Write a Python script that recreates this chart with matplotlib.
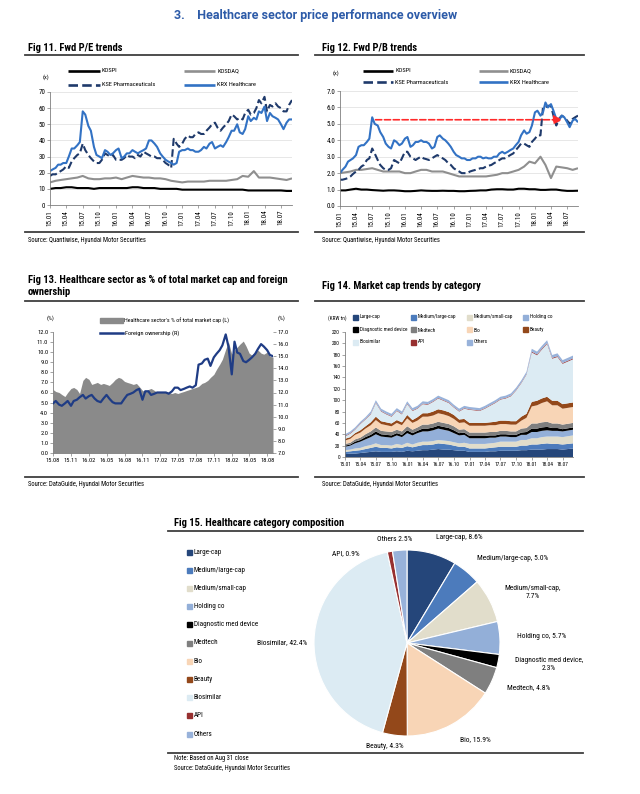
import pandas as pd
import matplotlib
matplotlib.use("Agg")
import matplotlib.pyplot as plt
import matplotlib.dates as mdates
from matplotlib.lines import Line2D
from matplotlib.patches import Rectangle

plt.rcParams["font.family"] = ["Roboto Condensed", "Open Sans Condensed", "PT Sans Narrow",
                               "Liberation Sans Narrow", "Roboto", "DejaVu Sans"]

W, H = 640, 794

# ---- Fig 11: forward P/E (semi-monthly for sector lines, monthly for indices)
pe_krx = [21, 22, 23, 25, 25, 26, 26, 30, 35, 35, 37, 39, 58, 56, 49, 46, 36, 31, 30, 29, 34, 33, 31, 32,
          34, 35, 29, 30, 32, 32, 34, 33, 32, 33, 34, 35, 40, 40, 38, 36, 32, 30, 28, 27, 26, 25, 26, 33,
          34, 34, 35, 34, 34, 33, 33, 34, 36, 35, 38, 39, 35, 36, 37, 36, 39, 42, 46, 46, 50, 45, 44, 47,
          55, 52, 54, 53, 58, 57, 61, 52, 57, 55, 54, 53, 50, 47, 51, 53, 53]
pe_kse = [18, 19, 19, 20, 21, 22, 24, 23, 27, 29, 31, 32, 38, 34, 31, 29, 27, 26, 26, 28, 32, 31, 30, 31,
          28, 28, 28, 29, 31, 30, 30, 29, 31, 30, 33, 32, 31, 30, 30, 29, 29, 28, 26, 25, 23, 41, 38, 36,
          38, 41, 43, 42, 42, 44, 45, 44, 44, 46, 48, 50, 51, 48, 46, 48, 50, 52, 56, 55, 53, 54, 53, 57,
          59, 56, 57, 60, 65, 63, 67, 58, 62, 61, 63, 61, 60, 58, 58, 62, 65]
pe_kosdaq = [14, 15, 15.5, 16, 16.5, 17, 18, 16.5, 16, 16, 16.5, 16.5,
             17, 16, 17, 18, 17.5, 17, 17, 16.5, 16.5, 16, 15, 14.5,
             14, 14.5, 14.5, 14.5, 14.5, 15, 15, 15, 15, 15.5, 16, 18,
             17.5, 21, 17, 17, 17, 16.5, 16, 15.5, 16.5]
pe_kospi = [10, 10.5, 10.5, 11, 11, 10.5, 10.5, 10.5, 10, 10.5, 10.5, 10.5,
            10.5, 10.5, 10.5, 11, 11, 10.5, 10.5, 10.5, 10, 10, 10, 10,
            9.5, 9.5, 9.5, 9.5, 9.5, 9.5, 9.5, 9.5, 9.5, 9.5, 9.5, 9.5,
            9, 9, 9, 9, 9, 9, 9, 8.7, 8.7]

# ---- Fig 12: forward P/B
pb_krx = [2.0, 2.2, 2.4, 2.7, 2.8, 2.9, 3.1, 3.6, 3.7, 3.7, 3.9, 4.1, 5.4, 5.0, 4.9, 4.5, 4.2, 3.8, 3.6, 3.5,
          4.0, 3.9, 3.7, 3.8,
          4.1, 4.2, 3.6, 3.7, 3.9, 3.9, 4.0, 3.9, 3.9, 3.8, 3.5, 3.6, 4.2, 4.3, 4.1, 4.0, 3.8, 3.6, 3.3, 3.1,
          3.0, 2.9, 2.9, 2.8,
          2.8, 2.9, 2.9, 3.0, 3.0, 2.9, 2.95, 2.9, 2.9, 3.0, 3.0, 3.2, 3.3, 3.2, 3.3, 3.4, 3.5, 3.7, 3.9, 4.3,
          4.6, 4.4, 4.5, 4.9,
          5.7, 5.8, 5.5, 5.7, 6.3, 6.0, 6.2, 5.8, 5.3, 5.2, 5.5, 5.4, 5.1, 4.8, 5.2, 5.3, 5.1]
pb_kse = [1.6, 1.6, 1.65, 1.7, 1.8, 1.95, 2.1, 2.2, 2.4, 2.5, 2.8, 2.9, 3.5, 3.2, 2.8, 2.5, 2.3, 2.2, 2.2, 2.3,
          2.8, 2.7, 2.6, 2.9,
          3.3, 3.3, 3.0, 2.9, 2.8, 2.9, 3.0, 2.9, 2.85, 2.8, 2.9, 3.0, 3.1, 3.0, 2.9, 2.8, 2.6, 2.5, 2.3, 2.2,
          2.1, 2.0, 2.0, 2.0,
          2.1, 2.15, 2.2, 2.25, 2.3, 2.3, 2.4, 2.45, 2.5, 2.6, 2.7, 2.8, 2.9, 2.9, 3.0, 3.1, 3.2, 3.4, 3.6, 3.8,
          3.8, 3.7, 3.6, 3.9,
          4.1, 4.3, 4.3, 6.0, 6.0, 6.1, 6.1, 5.5, 4.9, 5.3, 5.5, 5.4, 5.2, 5.0, 5.3, 5.4, 5.5]
pb_kosdaq = [2.0, 2.05, 2.1, 2.2, 2.2, 2.25, 2.3, 2.2, 2.1, 2.1, 2.1, 2.1,
             2.0, 2.0, 2.1, 2.2, 2.2, 2.1, 2.1, 2.1, 2.0, 1.9, 1.8, 1.8,
             1.8, 1.8, 1.8, 1.8, 1.85, 1.9, 2.0, 2.0, 2.1, 2.2, 2.4, 2.7,
             2.6, 3.0, 2.5, 1.7, 2.4, 2.35, 2.3, 2.2, 2.3]
pb_kospi = [0.95, 0.95, 1.0, 1.05, 1.0, 1.0, 0.97, 0.95, 0.93, 0.95, 0.95, 0.93,
            0.9, 0.9, 0.92, 0.95, 0.93, 0.92, 0.92, 0.93, 0.92, 0.92, 0.9, 0.9,
            0.92, 0.93, 0.95, 0.95, 1.0, 1.02, 1.02, 1.0, 1.0, 1.05, 1.05, 1.02,
            1.02, 0.98, 0.98, 1.0, 1.0, 0.95, 0.92, 0.92, 0.93]
arrow_from, arrow_to, arrow_level = "2015-07-20", "2018-06-05", 5.25

# ---- Fig 13: sector share of market cap (L) and foreign ownership (R)
hc_share = [6.3, 6.1, 6.0, 5.8, 5.6, 6.0, 6.4, 6.5, 6.3, 5.9,
            7.2, 7.5, 7.3, 6.8, 6.9, 7.0, 6.8, 6.9, 6.8, 6.7, 7.0, 7.3, 7.5, 7.4, 7.1, 7.0, 6.9, 6.8,
            6.9, 6.6, 6.2, 6.1, 6.3, 6.4,
            6.2, 6.0, 6.0, 6.1, 6.1, 6.0, 5.9, 6.0, 5.9, 6.0, 6.1, 6.2, 6.3, 6.4, 6.5, 6.6, 6.9, 7.0,
            7.2, 7.5, 7.8, 8.3, 8.8, 9.3,
            10.3, 11.0, 9.8, 10.2, 10.5, 10.8, 11.1, 10.6, 9.9, 9.7, 10.0, 10.2, 9.9, 9.8, 10.0, 9.6, 9.5]
foreign_own = [11.1, 11.3, 11.0, 10.9, 11.1, 11.3, 10.9, 11.3, 11.4, 11.6,
               11.8, 11.5, 11.7, 11.8, 11.5, 11.3, 11.2, 11.5, 11.8, 11.5, 11.2, 11.1, 11.1, 11.1,
               11.5, 11.8, 11.9, 12.0, 12.2, 12.3, 11.4, 12.1, 12.1, 11.8,
               11.9, 12.0, 12.0, 12.0, 12.0, 11.9, 12.1, 12.4, 12.4, 12.2, 12.3, 12.4, 12.5, 12.4,
               12.6, 14.3, 14.4, 14.7, 14.8, 14.2, 14.9, 15.2, 15.5, 15.9,
               16.8, 15.8, 13.5, 16.2, 15.3, 15.2, 14.6, 14.5, 14.7, 14.9, 15.2, 15.6, 16.0, 15.8,
               15.5, 15.1, 15.0]

# ---- Fig 14: market cap by category (KRW tn, monthly)
categories = ["Large-cap", "Medium/large-cap", "Medium/small-cap", "Holding co",
              "Diagnostic med device", "Medtech", "Bio", "Beauty", "Biosimilar", "API", "Others"]
cat_colors = ["#25467A", "#4C7BBC", "#E1DDCB", "#93AFD8", "#000000", "#7F7F7F",
              "#F8D5B6", "#93481A", "#DCEBF3", "#973030", "#98B2DA"]
mc_large = [5, 6, 6, 7, 8, 9, 10, 9, 9, 9, 10, 9, 11, 10, 11, 12, 12, 13, 14, 13, 13, 12, 11, 11,
            9, 9, 9, 9, 10, 10, 11, 11, 11, 11, 12, 12, 13, 13, 13, 14, 14, 14, 13, 15]
mc_medlarge = [4, 4, 5, 5, 6, 7, 8, 7, 7, 6, 7, 7, 8, 7, 8, 9, 9, 9, 10, 10, 9, 8, 7, 7,
               6, 6, 6, 6, 6, 7, 7, 7, 7, 7, 8, 8, 9, 9, 10, 10, 9, 9, 9, 9]
mc_medsmall = [3, 3, 4, 4, 5, 5, 6, 5, 5, 5, 6, 5, 6, 5, 6, 6, 6, 6, 6, 6, 6, 6, 6, 7,
               8, 8, 8, 8, 8, 8, 9, 9, 9, 9, 10, 10, 11, 11, 12, 12, 13, 13, 13, 14]
mc_holding = [6, 7, 9, 11, 12, 14, 16, 15, 14, 14, 15, 14, 17, 16, 17, 18, 18, 19, 20, 19, 18, 16, 14, 14,
              10, 10, 10, 10, 10, 9, 9, 9, 8, 8, 9, 9, 11, 11, 11, 11, 10, 10, 10, 10]
mc_diag = [2, 2, 3, 3, 4, 4, 5, 4, 4, 4, 4, 4, 5, 4, 4, 5, 5, 5, 5, 5, 5, 5, 4, 4,
           4, 4, 4, 4, 4, 4, 4, 4, 4, 4, 4, 5, 6, 6, 6, 6, 5, 5, 4, 4]
mc_medtech = [3, 3, 4, 4, 5, 6, 7, 6, 6, 6, 6, 6, 7, 6, 6, 7, 7, 7, 7, 7, 7, 7, 6, 6,
              6, 6, 6, 6, 6, 6, 6, 6, 6, 6, 7, 7, 9, 9, 9, 9, 8, 8, 8, 8]
mc_bio = [6, 7, 8, 9, 10, 11, 13, 12, 11, 10, 12, 11, 14, 12, 12, 14, 14, 14, 15, 15, 14, 13, 12, 12,
          12, 12, 12, 12, 12, 12, 12, 12, 12, 12, 14, 18, 30, 32, 34, 36, 32, 32, 28, 28]
mc_beauty = [3, 3, 3, 4, 4, 5, 6, 5, 5, 5, 5, 5, 6, 5, 6, 6, 6, 7, 7, 7, 7, 7, 6, 6,
             5, 5, 5, 5, 5, 6, 6, 6, 6, 6, 7, 7, 8, 8, 8, 8, 8, 8, 8, 8]
mc_biosimilar = [4, 6, 6, 11, 12, 14, 24, 17, 14, 12, 16, 14, 19, 16, 15, 16, 15, 17, 19, 17, 16, 13, 14, 18,
                 23, 22, 21, 25, 29, 33, 37, 39, 44, 54, 59, 69, 87, 80, 86, 93, 74, 77, 71, 76]
mc_api = [1] * 36 + [1.5] * 8
mc_others = [3, 3, 3, 3, 3, 4, 4, 4, 4, 4, 4, 4] + [4] * 24 + [5] * 8

# ---- Fig 15: composition at Aug 31 (%)
shares = [8.6, 5.0, 7.7, 5.7, 2.3, 4.8, 15.9, 4.3, 42.4, 0.9, 2.5]
pie_fmt = ["Large-cap, {}%", "Medium/large-cap, {}%", "Medium/small-cap,\n{}%", "Holding co, {}%",
           "Diagnostic med device,\n{}%", "Medtech, {}%", "Bio, {}%", "Beauty, {}%",
           "Biosimilar, {}%", "API, {}%", "Others {}%"]

semi = pd.date_range("2015-01-01", periods=88, freq="SMS").append(pd.DatetimeIndex(["2018-08-31"]))
monthly = pd.date_range("2015-01-01", periods=44, freq="MS").append(pd.DatetimeIndex(["2018-08-31"]))
semi13 = pd.date_range("2015-08-01", periods=74, freq="SMS").append(pd.DatetimeIndex(["2018-08-31"]))
monthly14 = pd.date_range("2015-01-01", periods=43, freq="MS").append(pd.DatetimeIndex(["2018-08-31"]))

TITLE_FS = 7.6
SRC_FS = 4.8
LEG_FS = 4.6


def fx(x):
    return x / W


def fy(y):
    return 1 - y / H


def box(x0, y0, x1, y1):
    return [fx(x0), fy(y1), (x1 - x0) / W, (y1 - y0) / H]


def rule(x0, x1, y, lw=1.3):
    fig.add_artist(Line2D([fx(x0), fx(x1)], [fy(y), fy(y)], color="#3F3F3F", lw=lw))


def txt(x, y, s, **kw):
    kw.setdefault("fontsize", LEG_FS)
    kw.setdefault("va", "center")
    fig.text(fx(x), fy(y), s, **kw)


def leg_line(x0, x1, y, label, **kw):
    fig.add_artist(Line2D([fx(x0), fx(x1)], [fy(y), fy(y)], **kw))
    txt(x1 + 2, y, label)


def leg_patch(x, y, w, h, color, label, fs=LEG_FS):
    fig.add_artist(Rectangle((fx(x), fy(y + h / 2)), w / W, h / H, color=color,
                             transform=fig.transFigure))
    txt(x + w + 1.5, y, label, fontsize=fs)


def style_axes(ax, fs=5):
    for s in ["top", "right"]:
        ax.spines[s].set_visible(False)
    for s in ["left", "bottom"]:
        ax.spines[s].set_color("#7F7F7F")
        ax.spines[s].set_linewidth(0.6)
    ax.tick_params(labelsize=fs, length=2, width=0.5, pad=1.5, colors="#7F7F7F", labelcolor="black")


fig = plt.figure(figsize=(6.4, 7.94), dpi=100)

txt(316, 15, "3.    Healthcare sector price performance overview", fontsize=9,
    fontweight="bold", color="#2D5BA8", ha="center", family=["Roboto", "DejaVu Sans"])

solid = dict(lw=1.5, solid_capstyle="butt")
leg_solid = dict(lw=1.9, solid_capstyle="butt")
dash = (0, (3.6, 1.6))

# ---------------- Fig 11
txt(28, 48, "Fig 11. Fwd P/E trends", fontsize=TITLE_FS, fontweight="bold")
rule(25, 298, 55)
rule(25, 298, 232)
txt(28, 240, "Source: Quantiwise, Hyundai Motor Securities", fontsize=SRC_FS)
ax11 = fig.add_axes(box(50, 92, 292, 205))
ax11.plot(monthly, pe_kospi, color="black", **solid)
ax11.plot(monthly, pe_kosdaq, color="#8F8F8F", **solid)
ax11.plot(semi, pe_kse, color="#1F3A6B", ls=dash, lw=1.5)
ax11.plot(semi, pe_krx, color="#3272C4", **solid)
ax11.set_ylim(0, 70)
ax11.set_yticks(range(0, 71, 10))
ax11.set_xlim(pd.Timestamp("2015-01-01"), pd.Timestamp("2018-08-31"))
ax11.set_xticks(pd.date_range("2015-01-01", "2018-07-01", freq="3MS"))
ax11.xaxis.set_major_formatter(mdates.DateFormatter("%y.%m"))
ax11.tick_params(axis="x", rotation=90)
ax11.grid(axis="y", color="#DDDDDD", lw=0.5)
ax11.set_axisbelow(True)
style_axes(ax11)
txt(43, 77, "(x)")
leg_line(68, 100, 71, "KOSPI", color="black", **leg_solid)
leg_line(184, 215, 71, "KOSDAQ", color="#8F8F8F", **leg_solid)
leg_line(68, 100, 85, "KSE Pharmaceuticals", color="#1F3A6B", ls=dash, lw=1.9)
leg_line(184, 215, 85, "KRX Healthcare", color="#3272C4", **leg_solid)

# ---------------- Fig 12
txt(322, 48, "Fig 12. Fwd P/B trends", fontsize=TITLE_FS, fontweight="bold")
rule(315, 584, 55)
rule(315, 584, 232)
txt(322, 240, "Source: Quantiwise, Hyundai Motor Securities", fontsize=SRC_FS)
ax12 = fig.add_axes(box(340, 91, 578, 206))
ax12.plot(monthly, pb_kospi, color="black", **solid)
ax12.plot(monthly, pb_kosdaq, color="#8F8F8F", **solid)
ax12.plot(semi, pb_kse, color="#1F3A6B", ls=dash, lw=1.5)
ax12.plot(semi, pb_krx, color="#3272C4", **solid)
ax12.annotate("", xy=(pd.Timestamp(arrow_to), arrow_level), xytext=(pd.Timestamp(arrow_from), arrow_level),
              arrowprops=dict(arrowstyle="-|>,head_length=0.5,head_width=0.25", color="#FF2A2A",
                              lw=1.2, ls="--", shrinkA=0, shrinkB=0))
ax12.set_ylim(0, 7)
ax12.set_yticks([i * 1.0 for i in range(8)])
ax12.yaxis.set_major_formatter(plt.FormatStrFormatter("%.1f"))
ax12.set_xlim(pd.Timestamp("2015-01-01"), pd.Timestamp("2018-08-31"))
ax12.set_xticks(pd.date_range("2015-01-01", "2018-07-01", freq="3MS"))
ax12.xaxis.set_major_formatter(mdates.DateFormatter("%y.%m"))
ax12.tick_params(axis="x", rotation=90)
ax12.grid(axis="y", color="#DDDDDD", lw=0.5)
ax12.set_axisbelow(True)
style_axes(ax12)
txt(333, 73, "(x)")
leg_line(363, 393, 71, "KOSPI", color="black", **leg_solid)
leg_line(479, 508, 71, "KOSDAQ", color="#8F8F8F", **leg_solid)
leg_line(363, 393, 82, "KSE Pharmaceuticals", color="#1F3A6B", ls=dash, lw=1.9)
leg_line(479, 508, 82, "KRX Healthcare", color="#3272C4", **leg_solid)

# ---------------- Fig 13
txt(28, 286, "Fig 13. Healthcare sector as % of total market cap and foreign\nownership",
    fontsize=TITLE_FS, fontweight="bold", linespacing=1.15)
rule(25, 298, 301)
rule(25, 298, 477)
txt(28, 484, "Source: DataGuide, Hyundai Motor Securities", fontsize=SRC_FS)
ax13 = fig.add_axes(box(53, 332, 273, 453))
ax13.fill_between(semi13, 0, hc_share, color="#8A8A8A", lw=0)
ax13.set_ylim(0, 12)
ax13.set_yticks(range(0, 13))
ax13.yaxis.set_major_formatter(plt.FormatStrFormatter("%.1f"))
ax13.set_xlim(pd.Timestamp("2015-08-01"), pd.Timestamp("2018-08-31"))
ax13.set_xticks(pd.date_range("2015-08-01", "2018-08-01", freq="3MS"))
ax13.xaxis.set_major_formatter(mdates.DateFormatter("%y.%m"))
style_axes(ax13, fs=4.6)
ax13b = ax13.twinx()
ax13b.plot(semi13, foreign_own, color="#1F3C85", lw=1.6)
ax13b.set_ylim(7, 17)
ax13b.set_yticks(range(7, 18))
ax13b.yaxis.set_major_formatter(plt.FormatStrFormatter("%.1f"))
for s in ["top", "left", "right", "bottom"]:
    ax13b.spines[s].set_visible(False)
ax13b.tick_params(labelsize=4.6, length=2, width=0.5, pad=1.5, colors="#7F7F7F", labelcolor="black")
txt(47, 318, "(%)", fontsize=4.4)
txt(278, 318, "(%)", fontsize=4.4)
leg_patch(100, 321, 23, 5, "#8A8A8A", "Healthcare sector's % of total market cap (L)", fs=4.3)
leg_line(100, 123, 333, "Foreign ownership (R)", color="#1F3C85", lw=1.8)

# ---------------- Fig 14
txt(322, 286, "Fig 14. Market cap trends by category", fontsize=TITLE_FS, fontweight="bold")
rule(315, 584, 301)
rule(315, 584, 477)
txt(322, 484, "Source: DataGuide, Hyundai Motor Securities", fontsize=SRC_FS)
ax14 = fig.add_axes(box(345, 332, 573, 457))
layers = [mc_large, mc_medlarge, mc_medsmall, mc_holding, mc_diag, mc_medtech,
          mc_bio, mc_beauty, mc_biosimilar, mc_api, mc_others]
ax14.stackplot(monthly14, layers, colors=cat_colors, lw=0)
ax14.set_ylim(0, 220)
ax14.set_yticks(range(0, 221, 20))
ax14.set_xlim(pd.Timestamp("2015-01-01"), pd.Timestamp("2018-08-31"))
ax14.set_xticks(pd.date_range("2015-01-01", "2018-07-01", freq="3MS"))
ax14.xaxis.set_major_formatter(mdates.DateFormatter("%y.%m"))
style_axes(ax14, fs=3.9)
txt(337, 318, "(KRW tn)", fontsize=3.8, ha="center")
leg_cols = [353, 411, 467, 523]
leg_rows = [317, 330, 342]
for i, (name, col) in enumerate(zip(categories, cat_colors)):
    leg_patch(leg_cols[i % 4], leg_rows[i // 4], 5, 5, col, name, fs=3.8)

# ---------------- Fig 15
txt(174, 523, "Fig 15. Healthcare category composition", fontsize=TITLE_FS, fontweight="bold")
rule(168, 583, 531)
rule(168, 583, 753)
txt(174, 759, "Note: Based on Aug 31 close", fontsize=SRC_FS)
txt(174, 769, "Source: DataGuide, Hyundai Motor Securities", fontsize=SRC_FS)
ax15 = fig.add_axes(box(314, 550, 500, 736))
pie_labels = [f.format(f"{v:.1f}") for f, v in zip(pie_fmt, shares)]
wedges, texts = ax15.pie(shares, colors=cat_colors, startangle=90, counterclock=False,
                         labels=pie_labels, labeldistance=1.18,
                         wedgeprops=dict(edgecolor="white", linewidth=0.8),
                         textprops=dict(fontsize=5.4))
for t in texts:
    t.set_multialignment("center")
# crowded labels near the top/bottom and the long left one sit closer, as in the source
texts[7].set_position((-0.24, -1.11))
texts[7].set_ha("center")
texts[8].set_position((-1.07, 0.0))
texts[9].set_position((-0.66, 0.96))
texts[9].set_ha("center")
texts[10].set_position((-0.13, 1.11))
texts[10].set_ha("center")
ax15.set_xlim(-1, 1)
ax15.set_ylim(-1, 1)
for i, (name, col) in enumerate(zip(categories, cat_colors)):
    leg_patch(187, 552 + i * 18.2, 5, 5, col, name, fs=5.1)

fig.savefig("out.png", dpi=100)
